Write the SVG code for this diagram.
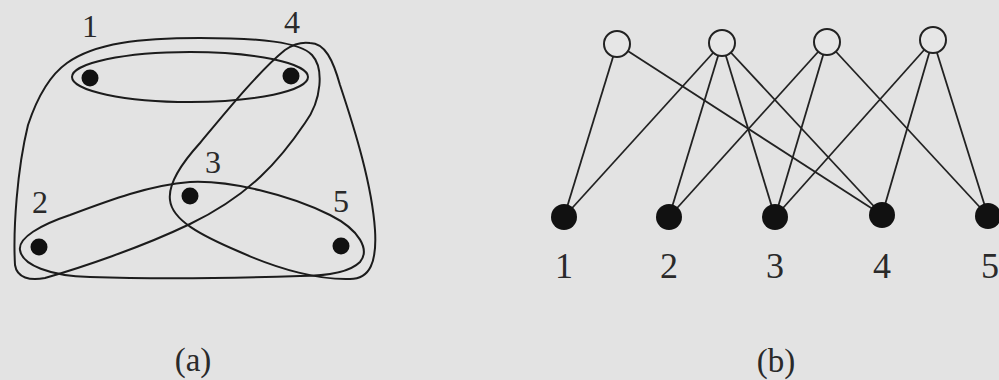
<svg xmlns="http://www.w3.org/2000/svg" width="999" height="380" viewBox="0 0 999 380">
<style>
.bg{fill:#e3e3e3}
.curve{fill:none;stroke:#1c1c1c;stroke-width:2}
.edge{stroke:#222;stroke-width:1.8}
.dot{fill:#111}
.hollow{fill:#e6e6e6;stroke:#222;stroke-width:2}
.lbl{font-family:"Liberation Serif","DejaVu Serif",serif;fill:#2a2a2a;text-anchor:middle}
.la{font-size:32px}
.lb{font-size:36px}
.cap{font-size:33px}
</style>
<rect class="bg" x="0" y="0" width="999" height="380"/>

<!-- (a) hypergraph -->
<g id="hyperedges">
<ellipse class="curve" cx="190" cy="77" rx="118" ry="25"/>
<path class="curve" d="M 67,63 C 95,43 140,38 200,38 C 260,38 300,42 312,55 C 324,68 322,100 305,123 C 280,160 250,195 190,224 C 140,248 80,268 45,278 C 30,281 17,278 15,265 C 13,230 17,170 28,125 C 38,95 50,75 67,63 Z"/>
<path class="curve" d="M 310,43 C 325,43 333,60 340,85 C 355,130 372,185 375,230 C 377,262 370,279 350,279 C 320,280 280,270 240,252 C 200,235 172,220 170,200 C 168,185 180,165 200,143 C 225,113 260,70 285,50 C 295,43 303,42 310,43 Z"/>
<path class="curve" d="M 20,250 C 18,238 40,225 70,215 C 110,200 150,185 190,182 C 230,180 290,195 330,215 C 360,230 370,250 360,262 C 350,272 330,276 300,276 C 240,278 150,279 90,277 C 50,276 22,265 20,250 Z"/>
</g>
<g id="a-node1"><circle class="dot" cx="90" cy="78" r="8.5"/><text class="lbl la" x="90" y="37">1</text></g>
<g id="a-node4"><circle class="dot" cx="291" cy="76" r="8.5"/><text class="lbl la" x="292" y="33">4</text></g>
<g id="a-node3"><circle class="dot" cx="190" cy="196" r="8.5"/><text class="lbl la" x="213" y="173">3</text></g>
<g id="a-node2"><circle class="dot" cx="39" cy="247" r="8.5"/><text class="lbl la" x="40" y="213">2</text></g>
<g id="a-node5"><circle class="dot" cx="341" cy="246" r="8.5"/><text class="lbl la" x="341" y="212">5</text></g>
<text class="lbl cap" x="193" y="371">(a)</text>

<!-- (b) bipartite graph -->
<g id="connectors">
<line class="edge" x1="617" y1="44" x2="564" y2="217"/>
<line class="edge" x1="617" y1="44" x2="882" y2="215"/>
<line class="edge" x1="722" y1="43" x2="564" y2="217"/>
<line class="edge" x1="722" y1="43" x2="669" y2="217"/>
<line class="edge" x1="722" y1="43" x2="775" y2="217"/>
<line class="edge" x1="722" y1="43" x2="882" y2="215"/>
<line class="edge" x1="827" y1="42" x2="669" y2="217"/>
<line class="edge" x1="827" y1="42" x2="775" y2="217"/>
<line class="edge" x1="827" y1="42" x2="988" y2="216"/>
<line class="edge" x1="933" y1="40" x2="775" y2="217"/>
<line class="edge" x1="933" y1="40" x2="882" y2="215"/>
<line class="edge" x1="933" y1="40" x2="988" y2="216"/>
</g>
<g id="b-e1"><circle class="hollow" cx="617" cy="44" r="13"/></g>
<g id="b-e2"><circle class="hollow" cx="722" cy="43" r="13"/></g>
<g id="b-e3"><circle class="hollow" cx="827" cy="42" r="13"/></g>
<g id="b-e4"><circle class="hollow" cx="933" cy="40" r="13"/></g>
<g id="b-v1"><circle class="dot" cx="564" cy="217" r="13"/><text class="lbl lb" x="564" y="278">1</text></g>
<g id="b-v2"><circle class="dot" cx="669" cy="217" r="13"/><text class="lbl lb" x="669" y="278">2</text></g>
<g id="b-v3"><circle class="dot" cx="775" cy="217" r="13"/><text class="lbl lb" x="775" y="278">3</text></g>
<g id="b-v4"><circle class="dot" cx="882" cy="215" r="13"/><text class="lbl lb" x="882" y="278">4</text></g>
<g id="b-v5"><circle class="dot" cx="988" cy="216" r="13"/><text class="lbl lb" x="990" y="278">5</text></g>
<text class="lbl cap" x="776" y="372">(b)</text>
</svg>
